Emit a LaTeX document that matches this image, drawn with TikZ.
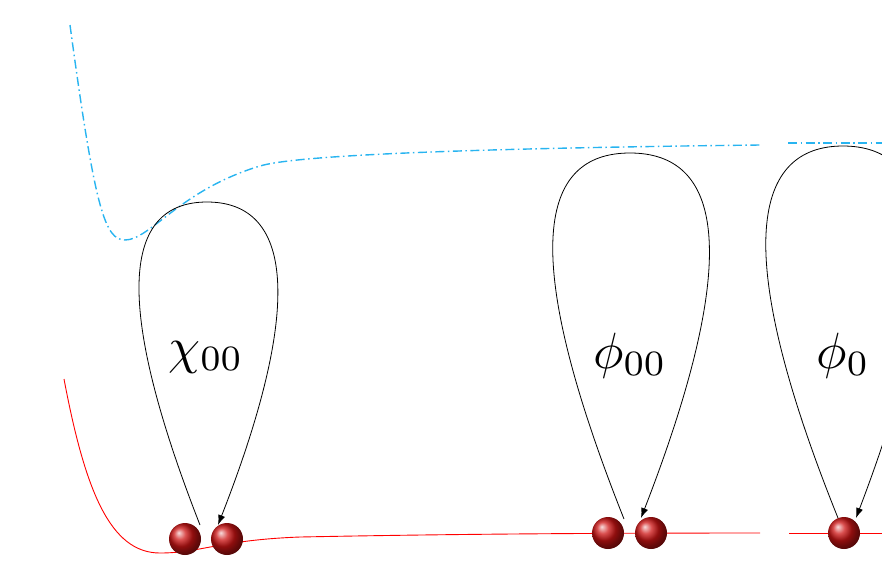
\documentclass[tikz,border=0pt]{standalone}
\usetikzlibrary{arrows.meta}
\definecolor{cyanline}{RGB}{40,180,240}
\definecolor{ballred}{RGB}{205,20,20}
\tikzset{
  ballnode/.style={circle, minimum size=32pt, inner sep=0pt, shading=ball, ball color=ballred},
  loopline/.style={black, line width=0.8pt},
  looparrow/.style={loopline, -{Latex[length=10pt,width=7pt]}},
  redline/.style={red, line width=0.9pt},
  cyanpath/.style={cyanline, line width=1.4pt, dash pattern=on 9pt off 3.5pt on 1.5pt off 3.5pt},
  lbl/.style={scale=5.1, anchor=base, inner sep=0pt}
}
\begin{document}
\begin{tikzpicture}[x=1pt,y=-1pt]
\useasboundingbox (0,0) rectangle (882,566);
\clip (0,0) rectangle (882,566);
% red curve
\draw[redline] (64,379) .. controls (85,490) and (110,553) .. (160,553)
  .. controls (200,553) and (220,540) .. (300,537)
  .. controls (450,534) and (600,533) .. (760,533);
\draw[redline] (789,533) -- (882,533);
% cyan curve
\draw[cyanpath] (70,25) .. controls (95,210) and (105,240) .. (125,240)
  .. controls (150,240) and (180,190) .. (260,166)
  .. controls (300,154) and (500,148) .. (760,145);
\draw[cyanpath] (788,143) -- (882,143);
% balls
\node[ballnode] (b1) at (185,539) {};
\node[ballnode] (b2) at (227,539) {};
\node[ballnode] (b3) at (608,533) {};
\node[ballnode] (b4) at (651,533) {};
\node[ballnode] (b5) at (844,533) {};
% loop end points
\coordinate (l1s) at (200,525);
\coordinate (l1t) at (207,202);
\coordinate (l1e) at (218,525);
\coordinate (l2s) at (624,519);
\coordinate (l2t) at (630,153);
\coordinate (l2e) at (641,518);
\coordinate (l3s) at (838,518);
\coordinate (l3t) at (843,146);
\coordinate (l3e) at (856,518);
% loops
\draw[looparrow] (l1s) .. controls (108,290) and (128,202) .. (l1t)
  .. controls (286,202) and (310,290) .. (l1e);
\draw[looparrow] (l2s) .. controls (517,250) and (540,153) .. (l2t)
  .. controls (720,153) and (745,250) .. (l2e);
\draw[looparrow] (l3s) .. controls (728,245) and (755,146) .. (l3t)
  .. controls (931,146) and (960,245) .. (l3e);
% labels
\node[lbl] (t1) at (206,363) {$\chi_{00}$};
\node[lbl] (t2) at (630,368) {$\phi_{00}$};
\node[lbl] (t3) at (843,368) {$\phi_{0}$};
\end{tikzpicture}
\end{document}
